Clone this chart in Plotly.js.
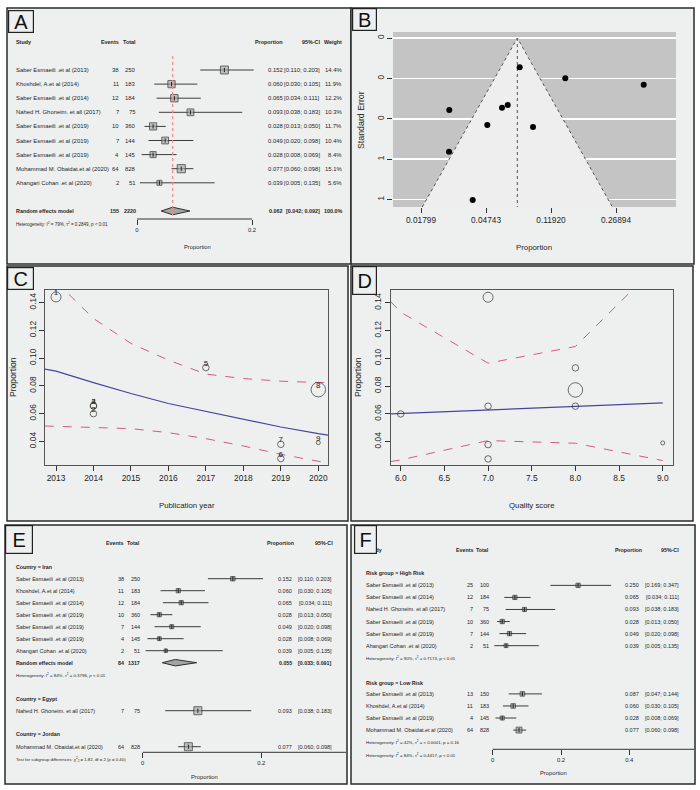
<!DOCTYPE html>
<html><head><meta charset="utf-8">
<script src="https://cdn.plot.ly/plotly-3.0.1.min.js"></script>
<style>html,body{margin:0;padding:0;background:#fff;}#chart{width:700px;height:790px;}</style>
</head><body><div id="chart"></div>
<script>
// ================= DATA =================
// Panel A : overall forest plot
const studiesA = ['Saber Esmaeili .et al (2013)','Khoshdel, A.et al (2014)','Saber Esmaeili .et al (2014)','Nahed H. Ghoneim. et all (2017)','Saber Esmaeili .et al (2019)','Saber Esmaeili .et al (2019)','Saber Esmaeili .et al (2019)','Mohammad M. Obaidat.et al (2020)','Ahangari Cohan .et al (2020)'];
const eventsA = [38,11,12,7,10,7,4,64,2];
const totalsA = [250,183,184,75,360,144,145,828,51];
const propA   = [0.152,0.060,0.065,0.093,0.028,0.049,0.028,0.077,0.039];
const lowerA  = [0.110,0.030,0.034,0.038,0.013,0.020,0.008,0.060,0.005];
const upperA  = [0.203,0.105,0.111,0.183,0.050,0.098,0.069,0.098,0.135];
const weightA = [14.4,11.9,12.2,10.3,11.7,10.4,8.4,15.1,5.6];
const pooledA = [155,2220,0.062,0.042,0.092];          // events, total, proportion, lower, upper
const hetA = 'Heterogeneity: I<sup>2</sup> = 79%, τ<sup>2</sup> = 0.2849, <i>p</i> &lt; 0.01';

// Panel B : funnel plot (logit proportion vs standard error)
const funnelLogit = [-3.565,-3.569,-3.205,-2.980,-2.754,-2.666,-2.482,-2.277,-1.780,-0.574];
const funnelSE    = [0.318,0.502,0.715,0.384,0.308,0.296,0.129,0.393,0.178,0.206];
const funnelCenter = -2.518;
const funnelTickVals = [-4,-3,-2,-1];
const funnelTickText = ['0.01799','0.04743','0.11920','0.26894'];
const seTickVals = [0,0.178,0.357,0.535,0.713];
const seTickText = ['0','0','0','1','1'];

// Panels C & D : meta-regression bubble plots
const regLabel  = ['1','2','3','4','5','6','7','8','9'];
const regYear   = [2013,2014,2014,2014,2017,2019,2019,2020,2020];
const regQual   = [7,6,7,8,8,7,7,8,9];
const regProp   = [0.144,0.0599,0.0655,0.0655,0.0931,0.0275,0.0378,0.0772,0.039];
const regWeight = [10,6.5,6.5,6.5,6.5,6.5,6.5,14.5,4];
const fitYearX  = [2012.7,2013,2014,2015,2016,2017,2018,2019,2020,2020.3];
const fitYear   = [0.092,0.0905,0.0823,0.0744,0.0672,0.0617,0.0559,0.0503,0.0455,0.0443];
const fitYearHi = [0.165,0.155,0.1285,0.1105,0.0985,0.0884,0.0852,0.0833,0.0823,0.0823];
const fitYearLo = [0.051,0.0508,0.0503,0.0491,0.0462,0.0419,0.0366,0.0306,0.0256,0.0238];
const fitQualX  = [5.885,9.0];
const fitQual   = [0.0599,0.0679];
const bandQualX = [5.885,6,7,8,9];
const fitQualHi = [0.1409,0.1332,0.0965,0.1085,0.171];
const fitQualLo = [0.0256,0.0268,0.0407,0.0388,0.0263];

// Panel E : subgroup by country
const studiesIran = ['Saber Esmaeili .et al (2013)','Khoshdel, A.et al (2014)','Saber Esmaeili .et al (2014)','Saber Esmaeili .et al (2019)','Saber Esmaeili .et al (2019)','Saber Esmaeili .et al (2019)','Ahangari Cohan .et al (2020)'];
const eventsIran = [38,11,12,10,7,4,2];
const totalsIran = [250,183,184,360,144,145,51];
const propIran   = [0.152,0.060,0.065,0.028,0.049,0.028,0.039];
const lowerIran  = [0.110,0.030,0.034,0.013,0.020,0.008,0.005];
const upperIran  = [0.203,0.105,0.111,0.050,0.098,0.069,0.135];
const weightIran = [14.4,11.9,12.2,11.7,10.4,8.4,5.6];
const pooledIran = [84,1317,0.055,0.033,0.091];
const hetIran = 'Heterogeneity: I<sup>2</sup> = 84%, τ<sup>2</sup> = 0.3796, <i>p</i> &lt; 0.01';
const studiesEgypt = ['Nahed H. Ghoneim. et all (2017)'];
const eventsEgypt = [7], totalsEgypt = [75], propEgypt = [0.093], lowerEgypt = [0.038], upperEgypt = [0.183];
const studiesJordan = ['Mohammad M. Obaidat.et al (2020)'];
const eventsJordan = [64], totalsJordan = [828], propJordan = [0.077], lowerJordan = [0.060], upperJordan = [0.098];
const testSubgroup = 'Test for subgroup differences: χ<sup>2</sup><sub>2</sub> = 1.82, df = 2 (<i>p</i> = 0.40)';

// Panel F : subgroup by risk group
const studiesHigh = ['Saber Esmaeili .et al (2013)','Saber Esmaeili .et al (2014)','Nahed H. Ghoneim. et all (2017)','Saber Esmaeili .et al (2019)','Saber Esmaeili .et al (2019)','Ahangari Cohan .et al (2020)'];
const eventsHigh = [25,12,7,10,7,2];
const totalsHigh = [100,184,75,360,144,51];
const propHigh   = [0.250,0.065,0.093,0.028,0.049,0.039];
const lowerHigh  = [0.169,0.034,0.038,0.013,0.020,0.005];
const upperHigh  = [0.347,0.111,0.183,0.050,0.098,0.135];
const weightHigh = [18,17,16,17,17,12];
const hetHigh = 'Heterogeneity: I<sup>2</sup> = 90%, τ<sup>2</sup> = 0.7174, p &lt; 0.01';
const studiesLow = ['Saber Esmaeili .et al (2013)','Khoshdel, A.et al (2014)','Saber Esmaeili .et al (2019)','Mohammad M. Obaidat.et al (2020)'];
const eventsLow = [13,11,4,64];
const totalsLow = [150,183,145,828];
const propLow   = [0.087,0.060,0.028,0.077];
const lowerLow  = [0.047,0.030,0.008,0.060];
const upperLow  = [0.144,0.105,0.069,0.098];
const weightLow = [21,21,14,44];
const hetLow = 'Heterogeneity: I<sup>2</sup> = 42%, τ<sup>2</sup> = &lt; 0.0001, p = 0.16';
const hetAll = 'Heterogeneity: I<sup>2</sup> = 84%, τ<sup>2</sup> = 0.4417, p &lt; 0.01';

// ================= HELPERS =================
const W = 700, H = 790;
const X = v => v / W, Y = v => 1 - v / H;
const SANS = 'Liberation Sans, Arial, sans-serif';
const NAR = SANS;
const PANEL = '#eef0f0', INK = '#1e1e1e';
const f3 = v => v.toFixed(3);
const ciTxt = (l, h) => '[' + f3(l) + '; ' + f3(h) + ']';
const ann = [], shapes = [], traces = [];

function T(text, x, y, o) {
  o = o || {};
  ann.push({text: text, x: X(x), y: Y(y), xref: 'paper', yref: 'paper', showarrow: false,
    xanchor: o.a || 'left', yanchor: 'middle', textangle: o.rot || 0, borderpad: 0,
    font: {family: o.f || NAR, size: o.s || 5.9, color: o.c || INK}});
}
function box(x0, y0, x1, y1, fill, w) {
  shapes.push({type: 'rect', xref: 'paper', yref: 'paper', x0: X(x0), x1: X(x1), y0: Y(y1), y1: Y(y0),
    fillcolor: fill, line: {color: '#2a2a2a', width: w || 1.5}, layer: 'below'});
}
function panelLabel(t, x0, y0, x1, y1) {
  ann.push({text: t, x: X(x0), y: Y(y0), xref: 'paper', yref: 'paper', showarrow: false,
    xanchor: 'left', yanchor: 'top', width: x1 - x0 - 2, height: y1 - y0 - 2, borderpad: 0,
    bgcolor: PANEL, bordercolor: '#222', borderwidth: 1.2, align: 'center', valign: 'middle',
    font: {family: SANS, size: 20, color: '#111'}});
}
// forest rows: CI lines, squares, and table text
function forestRows(ax, rowPx, rows, names, ev, tot, pr, lo, hi, sizes, fill, cols, wts) {
  const xs = [], ys = [];
  rows.forEach((r, i) => { xs.push(lo[i], hi[i], null); ys.push(r, r, null); });
  traces.push({type: 'scatter', mode: 'lines', x: xs, y: ys, xaxis: 'x' + ax, yaxis: 'y' + ax,
    line: {color: '#3c3c3c', width: 1}, hoverinfo: 'skip'});
  traces.push({type: 'scatter', mode: 'markers', x: pr, y: rows, xaxis: 'x' + ax, yaxis: 'y' + ax,
    marker: {symbol: 'square', size: sizes, color: fill, line: {color: '#2e2e2e', width: 1}}, hoverinfo: 'skip'});
  traces.push({type: 'scatter', mode: 'markers', x: pr, y: rows, xaxis: 'x' + ax, yaxis: 'y' + ax,
    marker: {symbol: 'line-ns-open', size: 3, color: '#222', line: {color: '#222', width: 1}}, hoverinfo: 'skip'});
  rows.forEach((r, i) => {
    const y = rowPx(r);
    T(names[i], cols.name, y, {s: cols.fs});
    T(String(ev[i]), cols.ev, y, {a: 'right', s: cols.fs});
    T(String(tot[i]), cols.tot, y, {a: 'right', s: cols.fs});
    T(f3(pr[i]), cols.pr, y, {a: 'right', s: cols.fs});
    T(ciTxt(lo[i], hi[i]), cols.ci, y, {a: 'right', s: cols.fs});
    if (wts) T(wts[i].toFixed(1) + '%', cols.w, y, {a: 'right', s: cols.fs});
  });
}
function diamond(ax, row, est, lo, hi, half) {
  traces.push({type: 'scatter', mode: 'lines', x: [lo, est, hi, est, lo], y: [row, row - half, row, row + half, row],
    xaxis: 'x' + ax, yaxis: 'y' + ax, fill: 'toself', fillcolor: '#a3a3a3', line: {color: '#2e2e2e', width: 1}, hoverinfo: 'skip'});
}
const within = w => { const s = w.reduce((a, b) => a + b, 0); return w.map(v => 100 * v / s); };
const sqSmall = w => w.map(v => 1.6 + 0.64 * Math.sqrt(v));

// ================= PANEL FRAMES =================
box(7, 8, 351, 264, PANEL);
box(351, 8, 694, 264, PANEL);
box(7, 266, 348, 521, PANEL);
box(351, 266, 693, 521, PANEL);
box(5, 525, 347, 784, PANEL);
box(351, 525, 695, 784, PANEL);

const tickAxis = (dom, rng, anchor, vals, txt, fs, fam) => ({domain: dom, range: rng, anchor: anchor,
  tickmode: 'array', tickvals: vals, ticktext: txt, ticks: 'outside', ticklen: 5, tickwidth: 1, tickcolor: '#333',
  tickfont: {family: fam || NAR, size: fs || 8, color: INK}, showgrid: false, zeroline: false, showline: false, fixedrange: true});
const hiddenY = (dom, rng, anchor) => ({domain: dom, range: rng, anchor: anchor, visible: false, fixedrange: true});

// ================= PANEL A =================
const rowPxA = i => 70 + (i - 1) * 14.1;
const rowA = px => (px - 70) / 14.1 + 1;
const invA = px => (px - 137) / 575;
const rowsA = studiesA.map((_, i) => i + 1);
const HB = 5.4; // bold header size
forestRows('', rowPxA, rowsA, studiesA, eventsA, totalsA, propA, lowerA, upperA,
  weightA.map(w => 2.1 * Math.sqrt(w)), '#a9a9a9', {name: 15, ev: 120, tot: 137, pr: 284, ci: 321, w: 343, fs: 5.9}, weightA);
diamond('', 11, pooledA[2], pooledA[3], pooledA[4], 0.27);
traces.push({type: 'scatter', mode: 'lines', x: [pooledA[2], pooledA[2]], y: [0, 11.4], xaxis: 'x', yaxis: 'y',
  line: {color: '#f08a8a', width: 1.2, dash: 'dot'}, hoverinfo: 'skip'});
shapes.push({type: 'line', xref: 'x', yref: 'y domain', x0: 0, x1: 0.2, y0: 0, y1: 0, line: {color: '#333', width: 1}});
T('<b>Study</b>', 15, 42, {s: HB}); T('<b>Events</b>', 120, 42, {a: 'right', s: HB}); T('<b>Total</b>', 137, 42, {a: 'right', s: HB});
T('<b>Proportion</b>', 284, 42, {a: 'right', s: HB}); T('<b>95%-CI</b>', 321, 42, {a: 'right', s: HB}); T('<b>Weight</b>', 343, 42, {a: 'right', s: HB});
const yRE = rowPxA(11);
T('<b>Random effects model</b>', 15, yRE, {s: HB}); T('<b>' + pooledA[0] + '</b>', 120, yRE, {a: 'right', s: HB});
T('<b>' + pooledA[1] + '</b>', 137, yRE, {a: 'right', s: HB}); T('<b>' + f3(pooledA[2]) + '</b>', 284, yRE, {a: 'right', s: HB});
T('<b>' + ciTxt(pooledA[3], pooledA[4]) + '</b>', 321, yRE, {a: 'right', s: HB}); T('<b>100.0%</b>', 343, yRE, {a: 'right', s: HB});
T(hetA, 15, 224, {s: 4.5});
T('Proportion', 197, 247, {a: 'center', s: 5.8});

// ================= PANEL B =================
const funnelXs = [funnelCenter - 1.96 * 0.7461, funnelCenter, funnelCenter + 1.96 * 0.7461];
shapes.push({type: 'rect', xref: 'x2 domain', yref: 'y2 domain', x0: 0, x1: 1, y0: 0, y1: 1, fillcolor: '#c4c4c4', line: {width: 0}, layer: 'below'});
traces.push({type: 'scatter', mode: 'lines', x: funnelXs, y: [0.7461, 0, 0.7461], xaxis: 'x2', yaxis: 'y2',
  fill: 'toself', fillcolor: '#eeeeee', line: {width: 0}, hoverinfo: 'skip'});
traces.push({type: 'scatter', mode: 'lines', x: funnelXs, y: [0.7461, 0, 0.7461], xaxis: 'x2', yaxis: 'y2',
  line: {color: '#555', width: 1, dash: 'dot'}, hoverinfo: 'skip'});
traces.push({type: 'scatter', mode: 'lines', x: [funnelCenter, funnelCenter], y: [0, 0.7461], xaxis: 'x2', yaxis: 'y2',
  line: {color: '#555', width: 1, dash: 'dot'}, hoverinfo: 'skip'});
traces.push({type: 'scatter', mode: 'markers', x: funnelLogit, y: funnelSE, xaxis: 'x2', yaxis: 'y2',
  marker: {color: '#000', size: 6}, hoverinfo: 'skip'});
T('Standard Error', 361, 120, {a: 'center', rot: -90, s: 8.8, f: SANS});
T('Proportion', 534, 247, {a: 'center', s: 7.8, f: SANS});

// ================= PANEL C =================
const redBand = '#d8587e', blueFit = '#4545a0';
traces.push({type: 'scatter', mode: 'lines', x: fitYearX, y: fitYearHi, xaxis: 'x3', yaxis: 'y3', line: {color: redBand, width: 1, dash: 'dash'}, hoverinfo: 'skip'});
traces.push({type: 'scatter', mode: 'lines', x: fitYearX, y: fitYearLo, xaxis: 'x3', yaxis: 'y3', line: {color: redBand, width: 1, dash: 'dash'}, hoverinfo: 'skip'});
traces.push({type: 'scatter', mode: 'lines', x: fitYearX, y: fitYear, xaxis: 'x3', yaxis: 'y3', line: {color: blueFit, width: 1.2}, hoverinfo: 'skip'});
traces.push({type: 'scatter', mode: 'markers', x: regYear, y: regProp, xaxis: 'x3', yaxis: 'y3',
  marker: {symbol: 'circle-open', size: regWeight, color: '#333', line: {color: '#333', width: 1}}, hoverinfo: 'skip'});
traces.push({type: 'scatter', mode: 'text', x: regYear, y: regProp, text: regLabel, textposition: 'top center', xaxis: 'x3', yaxis: 'y3',
  textfont: {family: SANS, size: 8, color: '#222'}, hoverinfo: 'skip'});
T('Proportion', 13, 377, {a: 'center', rot: -90, s: 8.6, f: SANS});
T('Publication year', 187, 505, {a: 'center', s: 7.8, f: SANS});

// ================= PANEL D =================
traces.push({type: 'scatter', mode: 'lines', x: bandQualX, y: fitQualHi, xaxis: 'x4', yaxis: 'y4', line: {color: redBand, width: 1, dash: 'dash'}, hoverinfo: 'skip'});
traces.push({type: 'scatter', mode: 'lines', x: bandQualX, y: fitQualLo, xaxis: 'x4', yaxis: 'y4', line: {color: redBand, width: 1, dash: 'dash'}, hoverinfo: 'skip'});
traces.push({type: 'scatter', mode: 'lines', x: fitQualX, y: fitQual, xaxis: 'x4', yaxis: 'y4', line: {color: blueFit, width: 1.2}, hoverinfo: 'skip'});
traces.push({type: 'scatter', mode: 'markers', x: regQual, y: regProp, xaxis: 'x4', yaxis: 'y4',
  marker: {symbol: 'circle-open', size: regWeight, color: '#333', line: {color: '#333', width: 1}}, hoverinfo: 'skip'});
T('Proportion', 358, 377, {a: 'center', rot: -90, s: 8.6, f: SANS});
T('Quality score', 532, 505, {a: 'center', s: 7.8, f: SANS});

// ================= PANEL E =================
const rowPxE = i => 566.7 + 12 * i;
const rowE = px => (px - 566.7) / 12;
const FS = 5.5, HBs = 5.3;
const colsE = {name: 15, ev: 125, tot: 141, pr: 293, ci: 333, fs: FS};
forestRows('5', rowPxE, [1, 2, 3, 4, 5, 6, 7], studiesIran, eventsIran, totalsIran, propIran, lowerIran, upperIran,
  sqSmall(within(weightIran)), '#7a7a7a', colsE);
forestRows('5', rowPxE, [12], studiesEgypt, eventsEgypt, totalsEgypt, propEgypt, lowerEgypt, upperEgypt, sqSmall([100]), '#a9a9a9', colsE);
forestRows('5', rowPxE, [15], studiesJordan, eventsJordan, totalsJordan, propJordan, lowerJordan, upperJordan, sqSmall([100]), '#a9a9a9', colsE);
diamond('5', 8, pooledIran[2], pooledIran[3], pooledIran[4], 0.27);
const xrE = [(135 - 142.7) / 593, (346 - 142.7) / 593];
shapes.push({type: 'line', xref: 'x5', yref: 'y5 domain', x0: 0, x1: xrE[1], y0: 0, y1: 0, line: {color: '#333', width: 1}});
T('<b>Events</b>', 124, 543, {a: 'right', s: HBs}); T('<b>Total</b>', 141, 543, {a: 'right', s: HBs});
T('<b>Proportion</b>', 295, 543, {a: 'right', s: HBs}); T('<b>95%-CI</b>', 334, 543, {a: 'right', s: HBs});
T('<b>Country = Iran</b>', 15, 566.7, {s: HBs});
const yREe = rowPxE(8);
T('<b>Random effects model</b>', 15, yREe, {s: HBs}); T('<b>' + pooledIran[0] + '</b>', 125, yREe, {a: 'right', s: HBs});
T('<b>' + pooledIran[1] + '</b>', 141, yREe, {a: 'right', s: HBs}); T('<b>' + f3(pooledIran[2]) + '</b>', 293, yREe, {a: 'right', s: HBs});
T('<b>' + ciTxt(pooledIran[3], pooledIran[4]) + '</b>', 333, yREe, {a: 'right', s: HBs});
T(hetIran, 15, 675, {s: 4.4});
T('<b>Country = Egypt</b>', 15, 699, {s: HBs});
T('<b>Country = Jordan</b>', 15, 734, {s: HBs});
T(testSubgroup, 15, 759, {s: 4.3});
T('Proportion', 204, 777, {a: 'center', s: 5.8});

// ================= PANEL F =================
const rowPxF = i => 573.3 + 12.06 * i;
const rowF = px => (px - 573.3) / 12.06;
const colsF = {name: 365, ev: 474, tot: 490, pr: 640, ci: 680, fs: FS};
forestRows('6', rowPxF, [1, 2, 3, 4, 5, 6], studiesHigh, eventsHigh, totalsHigh, propHigh, lowerHigh, upperHigh, sqSmall(weightHigh), '#7a7a7a', colsF);
forestRows('6', rowPxF, [10, 11, 12, 13], studiesLow, eventsLow, totalsLow, propLow, lowerLow, upperLow, sqSmall(weightLow), '#9a9a9a', colsF);
const xrF = [(485 - 492.7) / 341.5, (694 - 492.7) / 341.5];
shapes.push({type: 'line', xref: 'x6', yref: 'y6 domain', x0: 0, x1: xrF[1], y0: 0, y1: 0, line: {color: '#333', width: 1}});
T('<b>Study</b>', 366, 550, {s: HBs}); T('<b>Events</b>', 474, 550, {a: 'right', s: HBs}); T('<b>Total</b>', 490, 550, {a: 'right', s: HBs});
T('<b>Proportion</b>', 643, 550, {a: 'right', s: HBs}); T('<b>95%-CI</b>', 680, 550, {a: 'right', s: HBs});
T('<b>Risk group = High Risk</b>', 365, 573.3, {s: HBs});
T(hetHigh, 365, 658.3, {s: 4.4});
T('<b>Risk group = Low Risk</b>', 365, 682.7, {s: HBs});
T(hetLow, 365, 742.3, {s: 4.4});
T(hetAll, 365, 755, {s: 4.4});
T('Proportion', 553, 773.3, {a: 'center', s: 5.8});

// ================= PANEL LABELS (drawn last, on top) =================
panelLabel('A', 8, 10, 34, 33);
panelLabel('B', 352, 8, 377, 31);
panelLabel('C', 7, 267, 34, 290);
panelLabel('D', 352, 266, 377, 295);
panelLabel('E', 5, 525, 33, 554);
panelLabel('F', 354, 525, 377, 554);

// ================= LAYOUT =================
const boxAxis = {showline: true, mirror: true, linecolor: '#555', linewidth: 1};
const layout = {
  width: W, height: H, margin: {l: 0, r: 0, t: 0, b: 0}, paper_bgcolor: '#ffffff', plot_bgcolor: 'rgba(0,0,0,0)',
  showlegend: false, hovermode: false, dragmode: false,
  xaxis: tickAxis([X(132), X(258)], [invA(132), invA(258)], 'y', [0, 0.2], ['0', '0.2'], 5.9),
  yaxis: hiddenY([Y(219), Y(56)], [rowA(219), rowA(56)], 'x'),
  xaxis2: tickAxis([X(393), X(676)], [-4.431, -0.077], 'y2', funnelTickVals, funnelTickText, 8.3, SANS),
  yaxis2: Object.assign(tickAxis([Y(207), Y(32)], [0.7461, -0.0265], 'x2', seTickVals, seTickText, 8.3, SANS),
    {showgrid: true, gridcolor: '#ffffff', gridwidth: 1.5, tickangle: -90}),
  xaxis3: Object.assign(tickAxis([X(45), X(328)], [2012.706, 2020.259], 'y3', [2013, 2014, 2015, 2016, 2017, 2018, 2019, 2020],
    ['2013', '2014', '2015', '2016', '2017', '2018', '2019', '2020'], 8.4, SANS), boxAxis),
  yaxis3: Object.assign(tickAxis([Y(465), Y(290)], [0.0229, 0.1490], 'x3', [0.04, 0.06, 0.08, 0.10, 0.12, 0.14],
    ['0.04', '0.06', '0.08', '0.10', '0.12', '0.14'], 8.4, SANS), boxAxis, {tickangle: -90}),
  xaxis4: Object.assign(tickAxis([X(390.7), X(673.3)], [5.885, 9.121], 'y4', [6, 6.5, 7, 7.5, 8, 8.5, 9],
    ['6.0', '6.5', '7.0', '7.5', '8.0', '8.5', '9.0'], 8.4, SANS), boxAxis),
  yaxis4: Object.assign(tickAxis([Y(465.3), Y(290.3)], [0.0229, 0.1490], 'x4', [0.04, 0.06, 0.08, 0.10, 0.12, 0.14],
    ['0.04', '0.06', '0.08', '0.10', '0.12', '0.14'], 8.4, SANS), boxAxis, {tickangle: -90}),
  xaxis5: tickAxis([X(135), X(346)], xrE, 'y5', [0, 0.2], ['0', '0.2'], 5.9),
  yaxis5: hiddenY([Y(752.3), Y(558)], [rowE(752.3), rowE(558)], 'x5'),
  xaxis6: tickAxis([X(485), X(694)], xrF, 'y6', [0, 0.2, 0.4, 0.6], ['0', '0.2', '0.4', '0.6'], 5.9),
  yaxis6: hiddenY([Y(749.3), Y(565)], [rowF(749.3), rowF(565)], 'x6'),
  shapes: shapes, annotations: ann
};
Plotly.newPlot('chart', traces, layout, {staticPlot: true, displayModeBar: false});
</script></body></html>
